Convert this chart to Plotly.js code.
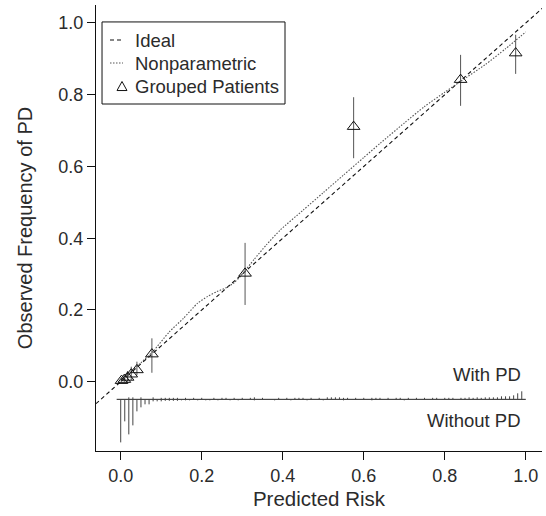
<!DOCTYPE html>
<html>
<head>
<meta charset="utf-8">
<script src="https://cdn.plot.ly/plotly-3.0.1.min.js"></script>
<style>html,body{margin:0;padding:0;background:#fff;}#chart{width:546px;height:516px;}</style>
</head>
<body>
<div id="chart"></div>
<script>
// Ideal reference line (y = x)
const idealX = [-0.1, 1.1];
const idealY = [-0.1, 1.1];

// Nonparametric (loess) calibration curve
const npX = [0.0, 0.02, 0.05, 0.08, 0.12, 0.155, 0.19, 0.215, 0.237, 0.262, 0.28, 0.295, 0.33, 0.36, 0.394, 0.45, 0.5, 0.55, 0.6, 0.641, 0.7, 0.75, 0.8, 0.84, 0.9, 0.95, 1.0];
const npY = [0.003, 0.022, 0.053, 0.085, 0.139, 0.177, 0.219, 0.238, 0.251, 0.263, 0.276, 0.293, 0.342, 0.382, 0.423, 0.478, 0.527, 0.576, 0.625, 0.665, 0.721, 0.767, 0.807, 0.838, 0.884, 0.928, 0.975];

// Grouped patients (observed proportion with CI)
const grpX = [0.002, 0.009, 0.017, 0.026, 0.040, 0.077, 0.307, 0.575, 0.839, 0.975];
const grpY = [0.003, 0.006, 0.012, 0.021, 0.033, 0.077, 0.302, 0.711, 0.842, 0.916];
const grpLo = [0.000, 0.000, 0.000, 0.005, 0.018, 0.025, 0.214, 0.623, 0.769, 0.858];
const grpHi = [0.010, 0.016, 0.030, 0.042, 0.056, 0.121, 0.387, 0.793, 0.911, 0.967];

// Risk distribution: bins of predicted risk and relative frequencies
const withoutX = [0.00, 0.01, 0.02, 0.03, 0.04, 0.05, 0.06, 0.07, 0.08, 0.09, 0.10, 0.11, 0.12, 0.13, 0.14, 0.15, 0.16, 0.17, 0.19, 0.21, 0.22, 0.24, 0.27, 0.29, 0.33, 0.38, 0.42, 0.46, 0.50, 0.55, 0.62, 0.70];
const withoutN = [43, 22, 35, 26, 12, 8, 5, 5, 2, 2, 2, 1.5, 1.5, 1.5, 1.5, 1, 1, 1, 1, 1, 1, 1, 1, 1, 1, 1, 1, 1, 1, 1, 1, 1];
const withX = [0.02, 0.03, 0.05, 0.08, 0.10, 0.11, 0.12, 0.13, 0.14, 0.16, 0.18, 0.20, 0.23, 0.25, 0.26, 0.28, 0.30, 0.32, 0.33, 0.35, 0.39, 0.41, 0.43, 0.44, 0.45, 0.47, 0.49, 0.51, 0.52, 0.53, 0.54, 0.55, 0.56, 0.58, 0.60, 0.62, 0.63, 0.64, 0.66, 0.68, 0.69, 0.71, 0.73, 0.75, 0.77, 0.78, 0.80, 0.81, 0.82, 0.84, 0.85, 0.86, 0.87, 0.88, 0.89, 0.90, 0.91, 0.92, 0.93, 0.94, 0.95, 0.96, 0.97, 0.98, 0.99];
const withN = [2, 2, 2, 2, 1.5, 1.5, 1.5, 1.5, 1.5, 1.5, 1.5, 1.5, 1.5, 1.5, 1.5, 1.5, 1.5, 1.5, 2, 1.5, 1.5, 1.5, 1.5, 1.5, 1.5, 1.5, 1.5, 2, 2, 2, 2, 1.5, 1.5, 1.5, 1.5, 1.5, 1.5, 1.5, 1.5, 1.5, 1.5, 1.5, 1.5, 1.5, 1.5, 1.5, 1.5, 1.5, 1.5, 1.5, 1.5, 2, 1.5, 2, 1.5, 2, 2, 2, 2, 3, 3, 3, 4, 6, 8];

const legendLabels = ['Ideal', 'Nonparametric', 'Grouped Patients'];
const rugLabels = ['With PD', 'Without PD'];

const rugBase = -0.049;
const rugLineX = [-0.01, 1.0];
const xTicks = [0, 0.2, 0.4, 0.6, 0.8, 1.0];
const yTicks = [0, 0.2, 0.4, 0.6, 0.8, 1.0];

const spikeScale = 0.12 / 43;
function spikes(xs, ns, dir) {
  const sx = [], sy = [];
  xs.forEach((x, i) => {
    sx.push(x, x, null);
    sy.push(rugBase, rugBase + dir * ns[i] * spikeScale, null);
  });
  return {sx, sy};
}
const down = spikes(withoutX, withoutN, -1);
const up = spikes(withX, withN, 1);

const FONT = 'Liberation Sans, Arial, Helvetica, sans-serif';
const TXT = '#2b2b2b';
const IDEAL_DASH = '4px,3px';
const NP_DASH = '1.5px,1.5px';

const traces = [
  {x: idealX, y: idealY, mode: 'lines', name: legendLabels[0], showlegend: false,
   line: {color: '#111', width: 1.1, dash: IDEAL_DASH}},
  {x: npX, y: npY, mode: 'lines', name: legendLabels[1], showlegend: false,
   line: {color: '#555', width: 1.1, dash: NP_DASH, shape: 'spline', smoothing: 0.6}},
  {x: grpX, y: grpY, mode: 'markers', name: legendLabels[2], showlegend: false,
   marker: {symbol: 'triangle-up-open', size: 11, color: '#111', line: {width: 1, color: '#111'}},
   error_y: {type: 'data', symmetric: false,
             array: grpHi.map((h, i) => h - grpY[i]),
             arrayminus: grpY.map((y, i) => y - grpLo[i]),
             width: 0, thickness: 1, color: '#555'}},
  {x: rugLineX, y: [rugBase, rugBase], mode: 'lines', showlegend: false, hoverinfo: 'skip', line: {color: '#222', width: 1}},
  {x: down.sx, y: down.sy, mode: 'lines', showlegend: false, hoverinfo: 'skip', line: {color: '#444', width: 1}},
  {x: up.sx, y: up.sy, mode: 'lines', showlegend: false, hoverinfo: 'skip', line: {color: '#444', width: 1}}
];

// legend geometry (paper coordinates)
const L = {x0: 0.0135, x1: 0.4238, y0: 0.778, y1: 0.962,
           sx0: 0.0314, sx1: 0.0605, tx: 0.083, rows: [0.9215, 0.8700, 0.8175]};

const shapes = [
  {type: 'rect', xref: 'paper', yref: 'paper', x0: L.x0, x1: L.x1, y0: L.y0, y1: L.y1,
   line: {color: '#111', width: 1}, fillcolor: '#fff', layer: 'above'},
  {type: 'line', xref: 'paper', yref: 'paper', x0: L.sx0, x1: L.sx1, y0: L.rows[0], y1: L.rows[0],
   line: {color: '#111', width: 1.1, dash: IDEAL_DASH}, layer: 'above'},
  {type: 'line', xref: 'paper', yref: 'paper', x0: L.sx0, x1: L.sx1, y0: L.rows[1], y1: L.rows[1],
   line: {color: '#555', width: 1.1, dash: NP_DASH}, layer: 'above'},
  {type: 'path', xref: 'paper', yref: 'paper', layer: 'above',
   path: 'M 0.0471 0.8082 L 0.0695 0.8082 L 0.0583 0.8285 Z',
   line: {color: '#111', width: 1}, fillcolor: 'rgba(0,0,0,0)'}
];

const annotations = legendLabels.map((t, i) => ({
  x: L.tx, y: L.rows[i] - 0.001, xref: 'paper', yref: 'paper', text: t, showarrow: false,
  xanchor: 'left', yanchor: 'middle', font: {family: FONT, size: 18.5, color: TXT}
})).concat([
  {x: 0.992, y: 0.019, xref: 'x', yref: 'y', text: rugLabels[0], showarrow: false,
   xanchor: 'right', yanchor: 'middle', font: {family: FONT, size: 18.5, color: TXT}},
  {x: 0.992, y: -0.107, xref: 'x', yref: 'y', text: rugLabels[1], showarrow: false,
   xanchor: 'right', yanchor: 'middle', font: {family: FONT, size: 18.5, color: TXT}}
]);

const layout = {
  width: 546, height: 516,
  margin: {l: 96, r: 4, t: 5, b: 65},
  paper_bgcolor: '#fff', plot_bgcolor: '#fff',
  font: {family: FONT, color: TXT, size: 18},
  showlegend: false,
  xaxis: {range: [-0.061, 1.04], tickvals: xTicks, tickformat: '.1f',
          showgrid: false, zeroline: false, showline: true, linecolor: '#111', linewidth: 1.2,
          ticks: 'outside', ticklen: 8, tickcolor: '#111', tickwidth: 1,
          tickfont: {family: FONT, size: 18, color: TXT},
          title: {text: 'Predicted Risk', font: {family: FONT, size: 20.5, color: TXT}, standoff: 6}},
  yaxis: {range: [-0.193, 1.05], tickvals: yTicks, tickformat: '.1f',
          showgrid: false, zeroline: false, showline: true, linecolor: '#111', linewidth: 1.2,
          ticks: 'outside', ticklen: 8, tickcolor: '#111', tickwidth: 1,
          tickfont: {family: FONT, size: 18, color: TXT},
          title: {text: 'Observed Frequency of PD', font: {family: FONT, size: 20, color: TXT}, standoff: 20}},
  shapes: shapes,
  annotations: annotations
};

Plotly.newPlot('chart', traces, layout, {displayModeBar: false, staticPlot: true});
</script>
</body>
</html>
